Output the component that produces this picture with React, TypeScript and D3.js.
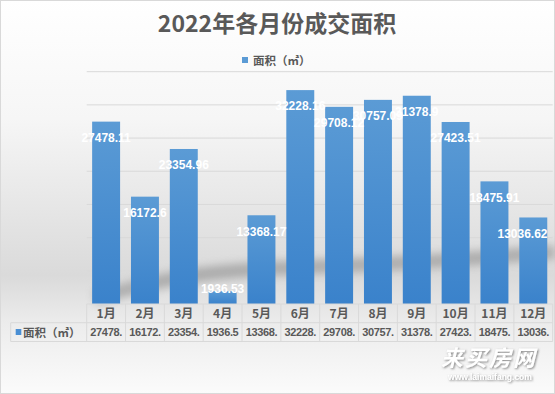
import React from "react";
import * as d3 from "d3";

const months = ["1月", "2月", "3月", "4月", "5月", "6月", "7月", "8月", "9月", "10月", "11月", "12月"];
const areaValues = [27478.11, 16172.6, 23354.96, 1936.53, 13368.17, 32228.16, 29708.12, 30757.09, 31378.9, 27423.51, 18475.91, 13036.62];
const yTicks = [5000, 10000, 15000, 20000, 25000, 30000, 35000];
const seriesName = "面积（㎡）";
const title = "2022年各月份成交面积";

const W = 555;
const H = 394;

export default function App() {
  const plotLeft = 86.7;
  const plotRight = 552.7;
  const baseY = 304;
  const topY = 71.7;

  const x = d3.scaleBand<string>().domain(months).range([plotLeft, plotRight]).paddingInner(0.28).paddingOuter(0.14);
  const y = d3.scaleLinear().domain([0, 35000]).range([baseY, topY]);
  const step = x.step();
  const colX = (i: number) => plotLeft + i * step;

  const swoosh = d3.line<[number, number]>().curve(d3.curveBasis)([
    [95, 298],
    [170, 278],
    [230, 270],
    [330, 266],
    [430, 262],
    [555, 252],
  ]);

  const cjk = "'Noto Sans CJK SC', 'Noto Sans', sans-serif";
  const textGray = "#595959";
  const rowTop = 304;
  const rowMid = 322.7;
  const rowBot = 341.5;

  return (
    <div style={{ position: "absolute", left: 0, top: 0 }}>
      <svg width={W} height={H} style={{ display: "block" }}>
        <defs>
          <linearGradient id="bg" x1="0" y1="0" x2="0" y2="1">
            <stop offset="0" stopColor="#ffffff" />
            <stop offset="0.3" stopColor="#f6f6f6" />
            <stop offset="0.7" stopColor="#dadada" />
            <stop offset="0.82" stopColor="#ececec" />
            <stop offset="1" stopColor="#fbfbfb" />
          </linearGradient>
          <linearGradient id="bar" x1="0" y1="0" x2="0" y2="1">
            <stop offset="0" stopColor="#5b9bd5" />
            <stop offset="1" stopColor="#3a82cb" />
          </linearGradient>
          <filter id="blur" x="-10%" y="-50%" width="120%" height="200%">
            <feGaussianBlur stdDeviation="4" />
          </filter>
          <filter id="wm" x="-10%" y="-30%" width="120%" height="160%">
            <feDropShadow dx="1" dy="1" stdDeviation="0.8" floodColor="#666" floodOpacity="0.8" />
          </filter>
        </defs>

        <rect x={0.5} y={0.5} width={W - 1} height={H - 1} fill="url(#bg)" stroke="#d9d9d9" />

        <text x={277} y={32} textAnchor="middle" fontFamily={cjk} fontWeight="bold" fontSize={23} fill={textGray}>
          {title}
        </text>

        <rect x={242} y={57} width={6} height={6} fill="#5b9bd5" />
        <text x={253} y={64.5} fontFamily={cjk} fontWeight="bold" fontSize={11.5} fill={textGray}>
          {seriesName}
        </text>

        {yTicks.map((t) => (
          <line key={t} x1={plotLeft} x2={plotRight} y1={y(t)} y2={y(t)} stroke="#d9d9d9" strokeWidth={1} />
        ))}

        <path d={swoosh ?? ""} fill="none" stroke="#7f7f7f" strokeWidth={14} opacity={0.5} filter="url(#blur)" />

        {areaValues.map((v, i) => (
          <rect key={months[i]} x={x(months[i])} y={y(v)} width={x.bandwidth()} height={baseY - y(v)} fill="url(#bar)" />
        ))}

        {areaValues.map((v, i) => {
          const cy = Math.min(y(v) + 16, baseY - 15);
          const cx = Math.min((x(months[i]) ?? 0) + x.bandwidth() / 2, 522.5);
          return (
            <text
              key={"l" + months[i]}
              x={cx}
              y={cy + 4.3}
              textAnchor="middle"
              fontFamily="'Liberation Sans', sans-serif"
              fontWeight="bold"
              fontSize={12}
              fill="#ffffff"
            >
              {String(v)}
            </text>
          );
        })}

        {/* data table */}
        <g stroke="#d9d9d9" strokeWidth={1} fill="none">
          <line x1={plotLeft} x2={plotRight} y1={rowTop} y2={rowTop} />
          <line x1={10.7} x2={plotRight} y1={rowMid} y2={rowMid} />
          <line x1={10.7} x2={plotRight} y1={rowBot} y2={rowBot} />
          <line x1={10.7} x2={10.7} y1={rowMid} y2={rowBot} />
          {months.map((m, i) => (
            <line key={"c" + m} x1={colX(i)} x2={colX(i)} y1={rowTop} y2={rowBot} />
          ))}
          <line x1={plotRight} x2={plotRight} y1={rowTop} y2={rowBot} />
        </g>
        {months.map((m, i) => (
          <text
            key={"h" + m}
            x={colX(i) + step / 2}
            y={rowTop + 13.5}
            textAnchor="middle"
            fontFamily={cjk}
            fontWeight="bold"
            fontSize={12}
            fill={textGray}
          >
            {m}
          </text>
        ))}
        {areaValues.map((v, i) => (
          <text
            key={"v" + months[i]}
            x={colX(i) + step / 2}
            y={rowMid + 13.3}
            textAnchor="middle"
            fontFamily="'Liberation Sans', sans-serif"
            fontWeight="bold"
            fontSize={11}
            letterSpacing={-0.35}
            fill={textGray}
          >
            {String(v).slice(0, 6)}
          </text>
        ))}
        <rect x={15.7} y={329} width={5.6} height={6} fill="#4a8fd4" />
        <text x={23} y={336.5} fontFamily={cjk} fontWeight="bold" fontSize={11.5} fill={textGray}>
          {seriesName}
        </text>

        {/* watermark */}
        <g filter="url(#wm)">
          <text x={489} y={366} textAnchor="middle" fontFamily={cjk} fontWeight="bold" fontStyle="italic" fontSize={22} fill="#ffffff" letterSpacing={2}>
            来买房网
          </text>
          <text x={490} y={380} textAnchor="middle" fontFamily="'Liberation Sans', sans-serif" fontWeight="bold" fontSize={8.5} fill="#ffffff">
            www.laimaifang.com
          </text>
        </g>
      </svg>
    </div>
  );
}
